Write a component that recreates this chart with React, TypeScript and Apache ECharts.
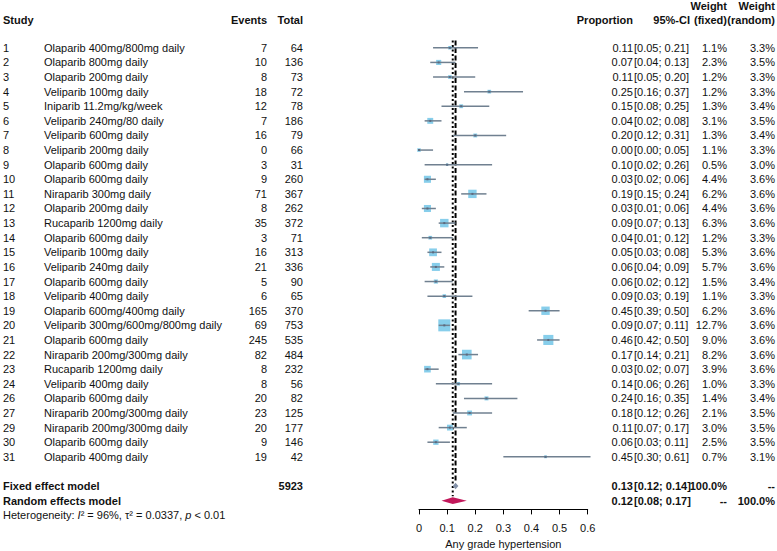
import React, { useEffect, useRef } from "react";
import * as echarts from "echarts";

const STUDY_IDS = [1, 2, 3, 4, 5, 6, 7, 8, 9, 10, 11, 12, 13, 14, 15, 16, 17, 18, 19, 20, 21, 22, 23, 24, 26, 27, 29, 30, 31];
const TREATMENTS = [
  "Olaparib 400mg/800mg daily",
  "Olaparib 800mg daily",
  "Olaparib 200mg daily",
  "Veliparib 100mg daily",
  "Iniparib 11.2mg/kg/week",
  "Veliparib 240mg/80 daily",
  "Veliparib 600mg daily",
  "Veliparib 200mg daily",
  "Olaparib 600mg daily",
  "Olaparib 600mg daily",
  "Niraparib 300mg daily",
  "Olaparib 200mg daily",
  "Rucaparib 1200mg daily",
  "Olaparib 600mg daily",
  "Veliparib 100mg daily",
  "Veliparib 240mg daily",
  "Olaparib 600mg daily",
  "Veliparib 400mg daily",
  "Olaparib 600mg/400mg daily",
  "Veliparib 300mg/600mg/800mg daily",
  "Olaparib 600mg daily",
  "Niraparib 200mg/300mg daily",
  "Rucaparib 1200mg daily",
  "Veliparib 400mg daily",
  "Olaparib 600mg daily",
  "Niraparib 200mg/300mg daily",
  "Niraparib 200mg/300mg daily",
  "Olaparib 600mg daily",
  "Olaparib 400mg daily",
];
const EVENTS = [7, 10, 8, 18, 12, 7, 16, 0, 3, 9, 71, 8, 35, 3, 16, 21, 5, 6, 165, 69, 245, 82, 8, 8, 20, 23, 20, 9, 19];
const TOTALS = [64, 136, 73, 72, 78, 186, 79, 66, 31, 260, 367, 262, 372, 71, 313, 336, 90, 65, 370, 753, 535, 484, 232, 56, 82, 125, 177, 146, 42];
const PROPORTION = [0.11, 0.07, 0.11, 0.25, 0.15, 0.04, 0.2, 0.0, 0.1, 0.03, 0.19, 0.03, 0.09, 0.04, 0.05, 0.06, 0.06, 0.09, 0.45, 0.09, 0.46, 0.17, 0.03, 0.14, 0.24, 0.18, 0.11, 0.06, 0.45];
const CI_LOWER = [0.05, 0.04, 0.05, 0.16, 0.08, 0.02, 0.12, 0.0, 0.02, 0.02, 0.15, 0.01, 0.07, 0.01, 0.03, 0.04, 0.02, 0.03, 0.39, 0.07, 0.42, 0.14, 0.02, 0.06, 0.16, 0.12, 0.07, 0.03, 0.3];
const CI_UPPER = [0.21, 0.13, 0.2, 0.37, 0.25, 0.08, 0.31, 0.05, 0.26, 0.06, 0.24, 0.06, 0.13, 0.12, 0.08, 0.09, 0.12, 0.19, 0.5, 0.11, 0.5, 0.21, 0.07, 0.26, 0.35, 0.26, 0.17, 0.11, 0.61];
const WEIGHT_FIXED = [1.1, 2.3, 1.2, 1.2, 1.3, 3.1, 1.3, 1.1, 0.5, 4.4, 6.2, 4.4, 6.3, 1.2, 5.3, 5.7, 1.5, 1.1, 6.2, 12.7, 9.0, 8.2, 3.9, 1.0, 1.4, 2.1, 3.0, 2.5, 0.7];
const WEIGHT_RANDOM = [3.3, 3.5, 3.3, 3.3, 3.4, 3.5, 3.4, 3.3, 3.0, 3.6, 3.6, 3.6, 3.6, 3.3, 3.6, 3.6, 3.4, 3.3, 3.6, 3.6, 3.6, 3.6, 3.6, 3.3, 3.4, 3.5, 3.5, 3.5, 3.1];

const SUMMARY_LABELS = ["Fixed effect model", "Random effects model"];
const SUMMARY_EST = [0.13, 0.12];
const SUMMARY_LO = [0.12, 0.08];
const SUMMARY_HI = [0.14, 0.17];
const SUMMARY_WF = ["100.0%", "--"];
const SUMMARY_WR = ["--", "100.0%"];
const TOTAL_N = 5923;

const X_TICKS = [0, 0.1, 0.2, 0.3, 0.4, 0.5, 0.6];

const FONT = "'Liberation Sans', Arial, sans-serif";
const TXT = "#111";

// rows counted from the top; the axis sits at row AXIS_ROW
const AXIS_ROW = 31.6;
const TOP_ROW = -3;
const yOf = (row: number) => AXIS_ROW - row;

function txt(x: number, y: number, text: string, align: string, bold = false, extra: any = {}) {
  return {
    type: "text",
    x,
    y,
    silent: true,
    style: {
      text,
      fill: TXT,
      fontSize: 11,
      fontFamily: FONT,
      fontWeight: bold ? "bold" : "normal",
      align,
      textAlign: align,
      verticalAlign: "middle",
      textVerticalAlign: "middle",
      ...extra,
    },
  };
}

// column anchors (layout)
const COL = {
  id: 3,
  name: 44,
  events: 267,
  total: 303,
  prop: 633,
  ci: 634,
  wf: 727,
  wr: 775,
};

export default function App() {
  const ref = useRef<HTMLDivElement>(null);

  useEffect(() => {
    if (!ref.current) return;
    const chart = echarts.init(ref.current, null, { renderer: "svg" });

    const studyData = PROPORTION.map((p, i) => [p, yOf(i), CI_LOWER[i], CI_UPPER[i], WEIGHT_FIXED[i]]);
    const summaryData = SUMMARY_EST.map((e, j) => [e, yOf(30 + j), SUMMARY_LO[j], SUMMARY_HI[j]]);

    const option: any = {
      animation: false,
      backgroundColor: "#fff",
      grid: {
        left: 419,
        right: 189.3,
        top: 4,
        bottom: 41.6,
        containLabel: false,
        outerBoundsMode: "none",
      },
      xAxis: {
        type: "value",
        position: "bottom",
        min: 0,
        max: 0.6,
        interval: 0.1,
        name: "Any grade hypertension",
        nameLocation: "middle",
        nameGap: 28,
        nameTextStyle: { color: TXT, fontSize: 11, fontFamily: FONT },
        axisLine: { show: true, onZero: true, lineStyle: { color: "#000", width: 1 } },
        axisTick: { show: true, length: 5, lineStyle: { color: "#000", width: 1 } },
        axisLabel: {
          color: TXT,
          fontSize: 11,
          fontFamily: FONT,
          margin: 13,
          formatter: (v: number) => {
            const t = X_TICKS.find((k) => Math.abs(k - v) < 1e-9);
            return String(t !== undefined ? t : +v.toFixed(1));
          },
        },
        splitLine: { show: false },
      },
      yAxis: {
        type: "value",
        min: 0,
        max: AXIS_ROW - TOP_ROW,
        show: false,
        splitLine: { show: false },
      },
      series: [
        {
          type: "line",
          data: [
            [SUMMARY_EST[0], yOf(-0.5)],
            [SUMMARY_EST[0], yOf(29.7)],
          ],
          showSymbol: false,
          symbol: "none",
          silent: true,
          lineStyle: { color: "#000", width: 2, type: [5, 2.5] },
          z: 1,
        },
        {
          type: "line",
          data: [
            [SUMMARY_EST[1], yOf(-0.5)],
            [SUMMARY_EST[1], yOf(30.7)],
          ],
          showSymbol: false,
          symbol: "none",
          silent: true,
          lineStyle: { color: "#000", width: 2, type: [2, 2.5] },
          z: 1,
        },
        {
          type: "custom",
          clip: false,
          silent: true,
          z: 3,
          data: studyData,
          renderItem: (params: any, api: any) => {
            const i = params.dataIndex;
            const yv = api.value(1);
            const c = api.coord([api.value(0), yv]);
            const lo = api.coord([api.value(2), yv]);
            const hi = api.coord([api.value(3), yv]);
            const side = 3.37 * Math.sqrt(api.value(4));
            const y = c[1];
            return {
              type: "group",
              children: [
                {
                  type: "rect",
                  shape: { x: c[0] - side / 2, y: y - side / 2, width: side, height: side },
                  style: { fill: "#87CEEB" },
                },
                {
                  type: "line",
                  shape: { x1: lo[0], y1: y, x2: hi[0], y2: y },
                  style: { stroke: "#708090", lineWidth: 1.5 },
                },
                {
                  type: "rect",
                  shape: { x: c[0] - 1, y: y - 1, width: 2, height: 2 },
                  style: { fill: "#5a6a80" },
                },
                txt(COL.id, y, String(STUDY_IDS[i]), "left"),
                txt(COL.name, y, TREATMENTS[i], "left"),
                txt(COL.events, y, String(EVENTS[i]), "right"),
                txt(COL.total, y, String(TOTALS[i]), "right"),
                txt(COL.prop, y, PROPORTION[i].toFixed(2), "right"),
                txt(COL.ci, y, `[${CI_LOWER[i].toFixed(2)}; ${CI_UPPER[i].toFixed(2)}]`, "left"),
                txt(COL.wf, y, `${WEIGHT_FIXED[i].toFixed(1)}%`, "right"),
                txt(COL.wr, y, `${WEIGHT_RANDOM[i].toFixed(1)}%`, "right"),
              ],
            };
          },
        },
        {
          type: "custom",
          clip: false,
          silent: true,
          z: 4,
          data: summaryData,
          renderItem: (params: any, api: any) => {
            const j = params.dataIndex;
            const yv = api.value(1);
            const c = api.coord([api.value(0), yv]);
            const lo = api.coord([api.value(2), yv]);
            const hi = api.coord([api.value(3), yv]);
            const y = c[1];
            const h = 3.3;
            const children: any[] = [
              {
                type: "polygon",
                shape: {
                  points: [
                    [lo[0], y],
                    [c[0], y - h],
                    [hi[0], y],
                    [c[0], y + h],
                  ],
                },
                style: { fill: j === 0 ? "#8391a8" : "#C2185B" },
              },
              txt(COL.id, y, SUMMARY_LABELS[j], "left", true),
              txt(COL.prop, y, SUMMARY_EST[j].toFixed(2), "right", true),
              txt(COL.ci, y, `[${SUMMARY_LO[j].toFixed(2)}; ${SUMMARY_HI[j].toFixed(2)}]`, "left", true),
              txt(COL.wf, y, SUMMARY_WF[j], "right", true),
              txt(COL.wr, y, SUMMARY_WR[j], "right", true),
            ];
            if (j === 0) children.push(txt(COL.total, y, String(TOTAL_N), "right", true));
            return { type: "group", children };
          },
        },
      ],
      graphic: [
        txt(COL.id, 20, "Study", "left", true),
        txt(COL.events, 20, "Events", "right", true),
        txt(COL.total, 20, "Total", "right", true),
        txt(COL.prop, 20, "Proportion", "right", true),
        txt(690, 20, "95%-CI", "right", true),
        txt(COL.wf, 6, "Weight", "right", true),
        txt(COL.wf, 20, "(fixed)", "right", true),
        txt(COL.wr, 6, "Weight", "right", true),
        txt(COL.wr, 20, "(random)", "right", true),
        {
          type: "text",
          x: 3,
          y: 515,
          silent: true,
          style: {
            text: "Heterogeneity: {it|I}\u00b2 = 96%, \u03c4\u00b2 = 0.0337, {it|p} < 0.01",
            fill: TXT,
            fontSize: 11,
            fontFamily: FONT,
            align: "left",
            textAlign: "left",
            verticalAlign: "middle",
            textVerticalAlign: "middle",
            rich: {
              it: { fontStyle: "italic", fontSize: 11, fontFamily: FONT, fill: TXT, color: TXT },
            },
          },
        },
      ],
    };

    chart.setOption(option);
    return () => chart.dispose();
  }, []);

  return (
    <div
      ref={ref}
      style={{ position: "fixed", left: 0, top: 0, width: 777, height: 551, background: "#fff" }}
    />
  );
}
